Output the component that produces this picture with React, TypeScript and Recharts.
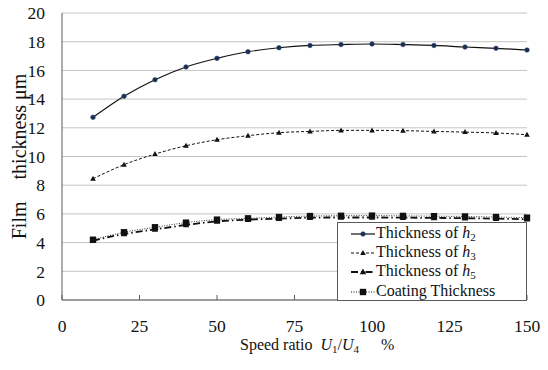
import React from 'react';
import { LineChart, Line, XAxis, YAxis, CartesianGrid } from 'recharts';

// speed ratio U1/U4 (%)
const speedRatio = [10, 20, 30, 40, 50, 60, 70, 80, 90, 100, 110, 120, 130, 140, 150];
// film thickness (um)
const thicknessH2 = [12.73, 14.2, 15.35, 16.24, 16.84, 17.3, 17.58, 17.74, 17.8, 17.84, 17.8, 17.74, 17.63, 17.54, 17.42];
const thicknessH3 = [8.45, 9.43, 10.17, 10.75, 11.17, 11.45, 11.66, 11.75, 11.82, 11.82, 11.8, 11.75, 11.7, 11.64, 11.52];
const thicknessH5 = [4.13, 4.6, 4.92, 5.23, 5.48, 5.6, 5.67, 5.74, 5.75, 5.75, 5.74, 5.72, 5.7, 5.67, 5.63];
const coatingThickness = [4.2, 4.72, 5.07, 5.39, 5.6, 5.69, 5.78, 5.85, 5.87, 5.88, 5.86, 5.84, 5.82, 5.78, 5.74];

const xTicks = [0, 25, 50, 75, 100, 125, 150];
const yTicks = [0, 2, 4, 6, 8, 10, 12, 14, 16, 18, 20];

const chartData = speedRatio.map((x, i) => ({
    x,
    h2: thicknessH2[i],
    h3: thicknessH3[i],
    h5: thicknessH5[i],
    coat: coatingThickness[i],
}));

const FONT = "'Liberation Serif', 'Times New Roman', serif";
const AXIS = '#5a5a5a';
const serif = { fontFamily: FONT };

const Circle = (p: any) => (
    <circle key={`c${p.index}`} cx={p.cx} cy={p.cy} r={2.3} fill="#1c2c4c" stroke="#2d4a7a" strokeWidth={0.6} />
);
const SmallTri = (p: any) => (
    <path key={`t${p.index}`} d={`M${p.cx},${p.cy - 3} L${p.cx + 2.8},${p.cy + 2} L${p.cx - 2.8},${p.cy + 2} Z`} fill="#111" />
);
const BigTri = (p: any) => (
    <path key={`b${p.index}`} d={`M${p.cx},${p.cy - 3.5} L${p.cx + 3.2},${p.cy + 2.3} L${p.cx - 3.2},${p.cy + 2.3} Z`} fill="#111" />
);
const Square = (p: any) => (
    <rect key={`s${p.index}`} x={p.cx - 3.2} y={p.cy - 3.2} width={6.4} height={6.4} fill="#111" />
);

// bottom axis: label below, small tick mark pointing into the plot
const renderXTick = (p: any) => (
    <g key={`xt${p.index}`}>
        <line x1={p.x} x2={p.x} y1={300} y2={295} stroke={AXIS} strokeWidth={1} />
        <text x={p.x} y={p.y} dy="0.71em" textAnchor="middle" style={serif} fontSize={17.5} fill="#111">
            {p.payload.value}
        </text>
    </g>
);

const renderYTick = (p: any) => (
    <text key={`yt${p.index}`} x={p.x} y={p.y} dy="0.355em" textAnchor="end" style={serif} fontSize={17.5} fill="#111">
        {p.payload.value}
    </text>
);

const XLabel = () => (
    <text x={240} y={350} style={serif} fontSize={16} fill="#111">
        <tspan>Speed ratio</tspan>
        <tspan dx={8} fontStyle="italic">U</tspan>
        <tspan fontSize={11} dy={3}>1</tspan>
        <tspan dy={-3}>/</tspan>
        <tspan fontStyle="italic">U</tspan>
        <tspan fontSize={11} dy={3}>4</tspan>
        <tspan dx={22} dy={-3}>%</tspan>
    </text>
);

const YLabel = () => {
    const cx = 19;
    const cy = 156.5;
    return (
        <text x={cx} y={cy} transform={`rotate(-90, ${cx}, ${cy})`} textAnchor="middle" dominantBaseline="central"
            style={serif} fontSize={20} fill="#111">
            <tspan>Film</tspan>
            <tspan dx={22}>thickness</tspan>
            <tspan dx={5}>μm</tspan>
        </text>
    );
};

const legendItems = [
    { sub: '2', dash: undefined, width: 1.2, marker: 'circle' },
    { sub: '3', dash: '3 2', width: 1, marker: 'small' },
    { sub: '5', dash: '7 3 1.5 3', width: 1.8, marker: 'big' },
    { sub: '', dash: '1 1.5', width: 1, marker: 'square' },
];

function LegendMarker({ kind }: { kind: string }) {
    const p = { cx: 12, cy: 10, index: 0 };
    if (kind === 'circle') return <Circle {...p} />;
    if (kind === 'small') return <SmallTri {...p} />;
    if (kind === 'big') return <BigTri {...p} />;
    return <Square {...p} />;
}

function ChartLegend() {
    return (
        <div style={{
            position: 'absolute', left: 337, top: 222, width: 188, height: 76,
            border: `1px solid ${AXIS}`, background: '#fff', fontFamily: FONT, fontSize: 16,
            color: '#111', paddingTop: 1,
        }}>
            {legendItems.map((it, i) => (
                <div key={i} style={{ display: 'flex', alignItems: 'center', height: 19.2, paddingLeft: 13 }}>
                    <svg width={24} height={19} style={{ marginRight: 1, flexShrink: 0 }}>
                        <line x1={0} x2={24} y1={10} y2={10} stroke="#111" strokeWidth={it.width} strokeDasharray={it.dash} />
                        <LegendMarker kind={it.marker} />
                    </svg>
                    {it.sub ? (
                        <span>Thickness of <i>h</i><sub style={{ fontSize: 11, verticalAlign: -3 }}>{it.sub}</sub></span>
                    ) : (
                        <span>Coating Thickness</span>
                    )}
                </div>
            ))}
        </div>
    );
}

export default function App() {
    return (
        <div style={{ position: 'absolute', left: 0, top: 0, width: 548, height: 370, background: '#fff', fontFamily: FONT }}>
            <LineChart width={548} height={370} data={chartData} margin={{ top: 13, right: 21, left: 0, bottom: 0 }}
                style={serif}>
                <CartesianGrid vertical={false} stroke="#c4c4c4" strokeWidth={1} />
                <XAxis
                    dataKey="x"
                    type="number"
                    domain={[0, 150]}
                    ticks={xTicks}
                    height={70}
                    tickSize={6}
                    tickMargin={14}
                    tickLine={false}
                    stroke={AXIS}
                    tick={renderXTick}
                />
                <XAxis xAxisId="top" orientation="top" dataKey="x" type="number" domain={[0, 150]} height={0}
                    tick={false} tickLine={false} stroke={AXIS} />
                <YAxis
                    domain={[0, 20]}
                    ticks={yTicks}
                    width={62}
                    tickSize={6}
                    tickMargin={11}
                    tickLine={false}
                    stroke={AXIS}
                    tick={renderYTick}
                />
                <YAxis yAxisId="right" orientation="right" domain={[0, 20]} width={0} tick={false} tickLine={false} stroke={AXIS} />
                <Line type="monotone" dataKey="coat" stroke="#333" strokeWidth={1} strokeDasharray="1 1.5"
                    dot={Square} activeDot={false} isAnimationActive={false} />
                <Line type="monotone" dataKey="h5" stroke="#111" strokeWidth={1.8} strokeDasharray="7 3 1.5 3"
                    dot={BigTri} activeDot={false} isAnimationActive={false} />
                <Line type="monotone" dataKey="h3" stroke="#111" strokeWidth={1} strokeDasharray="3 2"
                    dot={SmallTri} activeDot={false} isAnimationActive={false} />
                <Line type="monotone" dataKey="h2" stroke="#111" strokeWidth={1.2}
                    dot={Circle} activeDot={false} isAnimationActive={false} />
                <XLabel />
                <YLabel />
            </LineChart>
            <ChartLegend />
        </div>
    );
}
